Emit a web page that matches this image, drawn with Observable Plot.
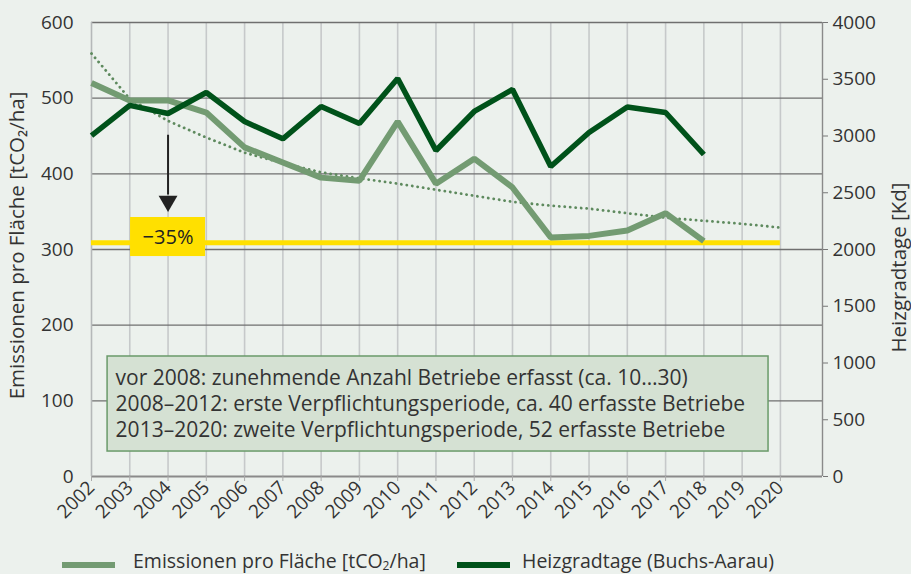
<!DOCTYPE html>
<html>
<head>
<meta charset="utf-8">
<script src="https://cdn.jsdelivr.net/npm/d3@7"></script>
<script src="https://cdn.jsdelivr.net/npm/@observablehq/plot@0.6"></script>
<style>
  html, body { margin: 0; padding: 0; background: #ecf1ed; overflow: hidden; }
  #wrap { position: relative; width: 911px; height: 574px; font-family: "Open Sans", sans-serif; color: #333; }
  #legend { position: absolute; left: 0; top: 550px; width: 911px; height: 22px; font-size: 19.5px; }
  .sw { position: absolute; height: 6px; top: 12px; }
  .lt { position: absolute; top: 0; line-height: 22px; white-space: nowrap; }
</style>
</head>
<body>
<div id="wrap">
  <div id="chart"></div>
  <div id="legend">
    <div class="sw" style="left:62px;width:53px;background:#739b72"></div>
    <div class="lt" style="left:133px">Emissionen pro Fläche [tCO<sub style="font-size:12px;vertical-align:-2px;line-height:0">2</sub>/ha]</div>
    <div class="sw" style="left:457px;width:53px;background:#00521a"></div>
    <div class="lt" style="left:522px">Heizgradtage (Buchs-Aarau)</div>
  </div>
</div>
<script>
// ---- data ----
const years = [2002,2003,2004,2005,2006,2007,2008,2009,2010,2011,2012,2013,2014,2015,2016,2017,2018];
const yearTicks = [2002,2003,2004,2005,2006,2007,2008,2009,2010,2011,2012,2013,2014,2015,2016,2017,2018,2019,2020];
const emissionen = [520,497,497,481,435,415,395,391,469,387,420,382,316,318,325,348,311];
const heizgradtage = [3004,3270,3198,3383,3128,2975,3260,3110,3506,2872,3216,3410,2731,3031,3255,3207,2837];
const trendYears = yearTicks;
const trend = [559,499,470,448,428,414,402,394,387,379,371,363,358,354,348,342,338,334,329];
const zielwert = 309;
const leftTicks = [0,100,200,300,400,500,600];
const rightTicks = [0,500,1000,1500,2000,2500,3000,3500,4000];
const boxLines = [
  "vor 2008: zunehmende Anzahl Betriebe erfasst (ca. 10…30)",
  "2008–2012: erste Verpflichtungsperiode, ca. 40 erfasste Betriebe",
  "2013–2020: zweite Verpflichtungsperiode, 52 erfasste Betriebe"
];
const reduktionLabel = "−35%";

// right axis (Kd) mapped onto left scale
const k = 600 / 4000;
const xMax = 2021.1;

const emData = years.map((y, i) => ({year: y, v: emissionen[i]}));
const hgData = years.map((y, i) => ({year: y, v: heizgradtage[i] * k}));
const trData = trendYears.map((y, i) => ({year: y, v: trend[i]}));

const FS = 19;
const chart = Plot.plot({
  width: 911,
  height: 574,
  marginLeft: 91,
  marginRight: 89,
  marginTop: 22,
  marginBottom: 98,
  style: {background: "#ecf1ed", fontFamily: "'Open Sans', sans-serif", fontSize: FS + "px", color: "#333", overflow: "visible"},
  x: {domain: [2002, xMax]},
  y: {domain: [0, 600]},
  marks: [
    // vertical grid
    Plot.ruleX(yearTicks.slice(1), {y1: 0, y2: 600, stroke: "#c6c9ca", strokeWidth: 1.6}),
    // horizontal grid
    Plot.ruleY(leftTicks.slice(1), {x1: 2002, x2: xMax, stroke: "#6f6f6f", strokeWidth: 1.4}),
    Plot.ruleY([0], {x1: 2002, x2: xMax, stroke: "#8a8a8a", strokeWidth: 2}),
    // axis lines
    Plot.ruleX([2002], {y1: 0, y2: 600, stroke: "#b5b8b9", strokeWidth: 1.6}),
    Plot.ruleX([xMax], {y1: 0, y2: 600, stroke: "#8a8a8a", strokeWidth: 1.4}),
    // axes
    Plot.axisY({anchor: "left", ticks: leftTicks, tickSize: 0, tickPadding: 18, label: null, fontSize: FS, fill: "#333"}),
    Plot.axisY({anchor: "right", ticks: rightTicks.map(d => d * k), tickFormat: d => String(Math.round(d / k)), tickSize: 5, tickPadding: 5, label: null, fontSize: FS, stroke: "#777", fill: "#333"}),
    Plot.axisX({ticks: yearTicks, tickFormat: d => String(d), tickRotate: -45, tickSize: 5, tickPadding: 3, label: null, fontSize: FS, stroke: "#aaa", fill: "#333"}),
    // axis titles
    Plot.text(["Emissionen pro Fläche [tCO₂/ha]"], {frameAnchor: "left", textAnchor: "middle", dx: -74, dy: -4, rotate: -90, fontSize: 20.5, fill: "#333"}),
    Plot.text(["Heizgradtage [Kd]"], {frameAnchor: "right", textAnchor: "middle", dx: 77, dy: 18, rotate: -90, fontSize: 20.5, fill: "#333"}),
    // target line
    Plot.ruleY([zielwert], {x1: 2002, x2: 2020, stroke: "#ffe000", strokeWidth: 5}),
    // data lines
    Plot.line(trData, {x: "year", y: "v", stroke: "#5e8a5e", strokeWidth: 2.8, strokeDasharray: "0.1,5.4", strokeLinecap: "round"}),
    Plot.line(emData, {x: "year", y: "v", stroke: "#739b72", strokeWidth: 6, strokeLinejoin: "miter", strokeLinecap: "butt"}),
    Plot.line(hgData, {x: "year", y: "v", stroke: "#00521a", strokeWidth: 5.5, strokeLinejoin: "miter", strokeLinecap: "butt"}),
    // arrow
    Plot.ruleX([2004], {y1: 451, y2: 372, stroke: "#222", strokeWidth: 2}),
    Plot.dot([{x: 2004, y: 364}], {x: "x", y: "y", symbol: "triangle", rotate: 180, r: 7, fill: "#222", stroke: "none"}),
    // -35% label
    Plot.rect([{x1: 2003.02, x2: 2004.98, y1: 290.7, y2: 342.3}], {x1: "x1", x2: "x2", y1: "y1", y2: "y2", fill: "#ffe000", inset: 0}),
    Plot.text([reduktionLabel], {x: 2004, y: 315.8, fontSize: 20, fill: "#222"}),
    // info box
    Plot.rect([{x1: 2002.42, x2: 2019.69, y1: 33, y2: 158.6}], {x1: "x1", x2: "x2", y1: "y1", y2: "y2", fill: "#d5e1d3", stroke: "#6a9a6a", strokeWidth: 1.5, inset: 0}),
    Plot.text(boxLines, {x: 2002.63, y: (d, i) => [129.5, 95.2, 60.8][i], textAnchor: "start", fontSize: 21, fill: "#333"})
  ]
});
document.getElementById("chart").appendChild(chart);
</script>
</body>
</html>
